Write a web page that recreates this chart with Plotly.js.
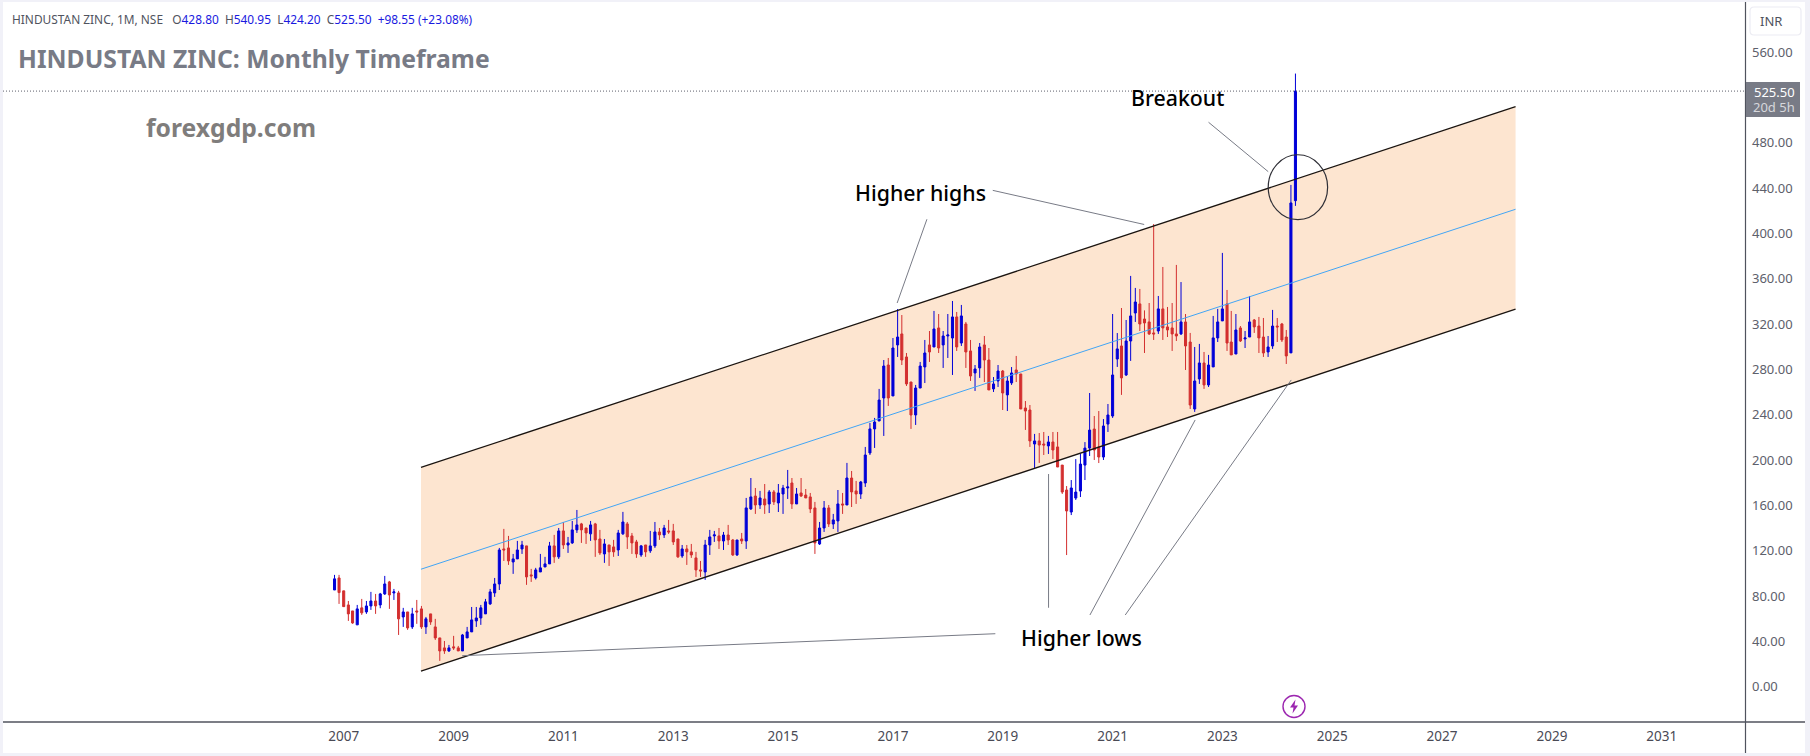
<!DOCTYPE html>
<html>
<head>
<meta charset="utf-8">
<script src="https://cdn.plot.ly/plotly-3.0.1.min.js"></script>
<style>
html,body{margin:0;padding:0;background:#f1f1f8;width:1810px;height:756px;overflow:hidden}
#chart{position:absolute;left:3px;top:2px;width:1802px;height:751px}
</style>
</head>
<body>
<div id="chart"></div>
<script>
const months = [
"2006-11","2006-12",
"2007-01","2007-02","2007-03","2007-04","2007-05","2007-06","2007-07","2007-08","2007-09","2007-10","2007-11","2007-12",
"2008-01","2008-02","2008-03","2008-04","2008-05","2008-06","2008-07","2008-08","2008-09","2008-10","2008-11","2008-12",
"2009-01","2009-02","2009-03","2009-04","2009-05","2009-06","2009-07","2009-08","2009-09","2009-10","2009-11","2009-12",
"2010-01","2010-02","2010-03","2010-04","2010-05","2010-06","2010-07","2010-08","2010-09","2010-10","2010-11","2010-12",
"2011-01","2011-02","2011-03","2011-04","2011-05","2011-06","2011-07","2011-08","2011-09","2011-10","2011-11","2011-12",
"2012-01","2012-02","2012-03","2012-04","2012-05","2012-06","2012-07","2012-08","2012-09","2012-10","2012-11","2012-12",
"2013-01","2013-02","2013-03","2013-04","2013-05","2013-06","2013-07","2013-08","2013-09","2013-10","2013-11","2013-12",
"2014-01","2014-02","2014-03","2014-04","2014-05","2014-06","2014-07","2014-08","2014-09","2014-10","2014-11","2014-12",
"2015-01","2015-02","2015-03","2015-04","2015-05","2015-06","2015-07","2015-08","2015-09","2015-10","2015-11","2015-12",
"2016-01","2016-02","2016-03","2016-04","2016-05","2016-06","2016-07","2016-08","2016-09","2016-10","2016-11","2016-12",
"2017-01","2017-02","2017-03","2017-04","2017-05","2017-06","2017-07","2017-08","2017-09","2017-10","2017-11","2017-12",
"2018-01","2018-02","2018-03","2018-04","2018-05","2018-06","2018-07","2018-08","2018-09","2018-10","2018-11","2018-12",
"2019-01","2019-02","2019-03","2019-04","2019-05","2019-06","2019-07","2019-08","2019-09","2019-10","2019-11","2019-12",
"2020-01","2020-02","2020-03","2020-04","2020-05","2020-06","2020-07","2020-08","2020-09","2020-10","2020-11","2020-12",
"2021-01","2021-02","2021-03","2021-04","2021-05","2021-06","2021-07","2021-08","2021-09","2021-10","2021-11","2021-12",
"2022-01","2022-02","2022-03","2022-04","2022-05","2022-06","2022-07","2022-08","2022-09","2022-10","2022-11","2022-12",
"2023-01","2023-02","2023-03","2023-04","2023-05","2023-06","2023-07","2023-08","2023-09","2023-10","2023-11","2023-12",
"2024-01","2024-02","2024-03","2024-04","2024-05"];

const opens = [
85.3,95.9,84.5,72.1,66.8,54.5,69.5,65.9,71.2,75.6,72.1,81.8,92.4,82.7,82.7,61.5,65.9,52.7,66.8,68.6,
52.7,64.2,52.7,43.0,34.2,31.5,35.1,34.2,31.5,43.0,48.3,58.0,60.6,64.2,73.0,82.7,90.6,121.5,122.4,110.0,
112.7,121.5,124.2,98.6,95.9,101.2,105.6,108.3,124.2,114.5,137.4,125.0,126.8,138.3,143.6,140.0,134.8,143.6,130.3,117.1,
125.0,123.3,120.6,134.8,143.6,133.0,127.7,116.2,125.0,119.8,124.2,136.5,133.9,137.4,137.4,130.3,115.3,121.5,118.9,113.6,
103.0,101.2,125.0,133.0,133.0,128.5,133.8,129.4,116.2,130.3,128.5,156.8,168.2,160.3,165.6,161.2,171.8,162.1,170.0,175.3,
179.7,161.2,170.9,169.1,167.4,157.7,125.9,140.0,157.7,143.5,146.2,161.2,160.3,184.1,172.7,170.0,179.7,206.2,227.4,234.4,
254.7,283.8,256.5,301.5,311.2,290.9,268.8,239.7,263.5,282.1,301.5,299.7,316.5,301.5,309.4,307.6,326.2,303.2,320.0,296.2,
276.8,281.2,301.5,288.2,262.7,269.7,278.5,257.4,268.0,279.4,275.9,245.9,244.1,214.1,216.8,214.1,212.4,215.9,211.5,195.5,
173.5,154.1,166.4,172.6,195.5,210.5,227.3,211.4,202.6,231.7,238.8,289.1,300.6,275.0,305.0,329.7,337.7,324.4,321.8,312.1,
313.8,333.3,317.4,316.5,311.2,311.2,321.8,304.1,245.0,271.5,285.6,266.2,282.1,307.7,322.7,337.7,304.1,293.5,316.5,306.8,
308.5,323.5,318.2,308.5,295.3,300.6,318.2,320.0,308.5,294.5,428.8];

const highs = [
98.6,98.6,84.5,75.6,66.8,72.1,77.4,75.6,83.6,81.8,82.7,97.7,93.3,86.2,84.5,69.5,65.9,69.5,76.5,71.2,
61.5,64.2,59.8,43.0,40.3,36.8,44.8,35.9,46.5,52.7,70.3,70.3,72.1,77.4,86.2,95.9,122.4,139.2,133.0,117.1,
128.6,128.6,124.2,103.9,104.8,117.1,114.5,127.7,133.9,140.0,145.3,132.1,146.2,155.9,144.5,140.0,146.2,144.5,138.3,130.3,
125.0,129.5,138.3,154.2,145.3,135.6,129.5,125.0,125.0,137.4,145.3,140.0,142.7,147.1,143.6,130.3,125.0,125.0,125.9,118.9,
110.9,129.5,138.3,137.4,140.0,136.5,142.7,130.3,129.4,135.6,166.5,184.1,175.3,172.7,178.8,173.5,173.5,178.8,178.0,191.2,
184.1,175.3,184.1,174.4,170.9,163.0,145.3,163.8,160.3,152.4,173.5,170.9,197.4,190.3,181.5,181.5,211.5,232.7,237.1,262.7,
288.2,290.0,307.6,333.2,327.9,294.4,268.8,266.2,286.5,305.9,313.8,331.5,328.8,313.8,328.8,340.3,330.6,336.8,321.8,305.9,
283.8,303.2,309.4,298.8,273.2,283.8,279.4,274.1,282.0,291.8,275.9,252.0,248.5,223.0,223.8,224.7,221.2,224.7,224.7,195.5,
177.0,182.3,200.8,205.3,215.8,259.1,238.8,243.2,236.1,249.4,328.8,312.0,334.1,323.5,362.4,351.8,350.9,332.0,338.5,408.2,
344.7,370.3,335.0,338.5,372.1,357.0,328.8,312.1,299.7,302.4,295.3,292.7,327.1,333.3,382.7,350.0,331.5,328.8,318.2,313.8,
344.7,324.4,326.2,325.3,309.4,332.4,325.3,320.9,314.7,442.7,540.95];

const lows = [
85.3,73.0,70.6,58.0,55.4,54.5,63.3,64.2,67.7,64.2,69.2,80.9,68.6,76.5,45.6,52.7,50.1,50.9,55.4,50.9,
46.5,54.5,41.2,22.7,28.9,30.6,32.4,31.5,31.5,43.0,48.3,52.7,54.5,64.2,72.1,79.2,85.3,110.9,107.4,99.5,
112.7,117.1,89.8,92.4,94.5,101.2,105.6,108.3,109.2,112.7,121.5,118.0,125.9,135.6,126.8,125.9,128.6,114.5,116.2,109.2,
106.5,114.5,115.3,133.9,121.5,117.1,113.6,114.5,114.5,118.0,122.4,129.5,131.2,134.8,125.0,113.6,113.6,107.4,113.6,96.8,
96.8,94.2,116.2,127.7,121.5,120.6,125.0,115.3,115.3,125.9,121.5,155.9,152.4,156.8,152.4,153.2,160.3,154.1,152.4,165.6,
156.8,161.2,167.4,166.5,153.2,117.1,125.0,136.5,140.9,139.1,136.5,152.4,160.3,158.5,161.2,165.6,176.2,204.4,210.6,234.4,
221.2,247.7,256.5,290.9,283.8,265.3,227.4,230.9,263.5,267.9,286.5,299.7,294.4,281.2,290.0,275.0,296.2,300.6,281.2,269.7,
260.9,272.4,268.8,261.8,260.0,264.4,244.1,243.2,266.2,268.8,245.0,226.5,211.5,193.0,197.4,204.4,205.3,200.9,193.8,170.0,
116.1,151.4,164.7,167.3,182.3,203.5,200.0,197.3,200.0,224.7,237.1,282.1,257.4,274.1,287.4,321.8,313.8,294.4,310.3,305.9,
311.2,305.9,308.5,296.2,305.0,310.3,279.4,245.0,242.4,267.1,262.7,264.4,282.1,304.1,322.7,296.2,292.7,293.5,304.1,298.8,
308.5,312.1,294.4,290.9,290.9,298.0,304.1,304.1,284.7,294.5,424.2];

const closes = [
95.1,83.0,70.6,64.2,56.2,68.6,65.1,71.2,75.6,71.2,81.8,90.6,80.9,83.6,59.8,65.9,51.8,64.2,65.9,52.7,
59.8,57.1,43.0,31.5,31.5,34.2,34.2,31.5,45.6,48.3,58.9,60.6,69.5,74.8,83.6,90.6,120.6,120.6,110.9,112.7,
120.6,125.0,96.8,97.7,103.0,104.8,108.3,124.2,114.5,137.4,125.0,126.8,138.3,142.7,138.3,135.6,142.7,129.5,118.0,125.9,
118.9,118.9,135.6,145.3,132.1,126.8,117.1,124.2,118.9,124.2,136.5,133.9,140.0,136.5,127.7,114.5,121.5,118.9,116.2,103.0,
102.1,125.0,132.1,133.9,128.6,133.8,129.4,116.2,129.4,128.5,157.7,167.4,160.3,166.5,160.3,171.8,163.0,170.9,175.3,176.2,
161.2,170.0,168.2,166.5,156.8,126.8,140.0,157.7,143.5,147.1,161.2,160.3,184.1,171.8,170.0,180.6,204.4,227.4,233.5,252.9,
282.9,254.7,298.8,308.5,288.2,267.1,239.7,263.5,282.9,294.4,295.3,315.6,298.8,309.4,310.3,326.2,299.7,327.1,295.3,274.1,
280.3,299.7,288.2,261.8,267.1,278.5,259.1,269.7,276.8,275.9,245.0,243.2,216.8,216.8,213.2,213.2,215.9,208.8,193.8,171.7,
155.0,175.3,171.7,196.4,210.5,226.4,208.8,202.6,230.0,239.7,275.0,298.0,272.4,305.0,327.1,339.4,320.0,320.9,311.2,311.2,
333.3,316.5,314.7,311.2,309.4,321.8,300.6,248.5,269.7,285.6,266.2,283.8,307.7,321.8,333.3,303.2,292.7,314.7,305.0,307.7,
321.8,317.4,307.7,294.4,299.7,318.2,317.4,305.9,291.8,426.8,525.5];

const channelDates = ["2008-05-29","2028-05-04"];
const channelUpper = [193.4,511.7];
const channelMid   = [103.6,421.2];
const channelLower = [13.6,333.0];

const yearTicks = [2007,2009,2011,2013,2015,2017,2019,2021,2023,2025,2027,2029,2031];
const priceTicks = [0,40,80,120,160,200,240,280,320,360,400,440,480,560];

// callouts: [date, price, date, price]
const callouts = [
 ["2009-02-27",27.3,"2018-11-13",46.7],
 ["2019-11-02",187.6,"2019-11-02",69.6],
 ["2022-07-04",235.3,"2020-08-03",63.2],
 ["2024-04-03",270.6,"2021-03-26",63.2],
 ["2017-08-15",412.4,"2017-01-29",338.5],
 ["2018-10-27",437.9,"2021-07-30",407.8],
 ["2022-10-01",498.0,"2023-11-02",454.4]
];
const lastPrice = 525.5;

const BLUE="#0000d8", RED="#d32f2f", GREY="#787b86";
// page pixels -> paper fractions
const PX = x => (x-3)/1742;
const PY = y => 1-(y-2)/720;
const ALL_FONT='"Noto Sans", sans-serif';

const candles = {
  type:"candlestick", x:months, open:opens, high:highs, low:lows, close:closes,
  width:14*86400000, whiskerwidth:0, hoverinfo:"skip", showlegend:false,
  increasing:{line:{color:BLUE,width:1},fillcolor:BLUE},
  decreasing:{line:{color:RED,width:1},fillcolor:RED}
};
const lineTrace=(y,color,w)=>({type:"scatter",mode:"lines",x:channelDates,y:y,line:{color:color,width:w},hoverinfo:"skip",showlegend:false});

const shapes=[
 {type:"path",xref:"x",yref:"y",layer:"below",line:{width:0},fillcolor:"#fde5d0",
  path:`M ${channelDates[0]},${channelLower[0]} L ${channelDates[0]},${channelUpper[0]} L ${channelDates[1]},${channelUpper[1]} L ${channelDates[1]},${channelLower[1]} Z`},
 {type:"line",xref:"paper",yref:"y",x0:0,x1:1,y0:lastPrice,y1:lastPrice,line:{color:"#5d606b",width:1,dash:"1px,2px"}},
 {type:"circle",xref:"x",yref:"y",x0:"2023-11-02",x1:"2024-12-01",y0:412,y1:469.3,line:{color:"#2f2f36",width:1.2},fillcolor:"rgba(0,0,0,0)"},
 // axis furniture
 {type:"line",xref:"paper",yref:"paper",x0:PX(3),x1:PX(1805),y0:PY(722),y1:PY(722),line:{color:"#50535e",width:1.4}},
 {type:"line",xref:"paper",yref:"paper",x0:PX(1745.5),x1:PX(1745.5),y0:PY(2),y1:PY(753),line:{color:"#50535e",width:1.2}},
 // price tag
 {type:"rect",xref:"paper",yref:"paper",x0:PX(1746),x1:PX(1800),y0:PY(82),y1:PY(117),line:{width:0},fillcolor:GREY},
 // currency box
 {type:"path",xref:"paper",yref:"paper",line:{color:"#ececf3",width:1.2},fillcolor:"#ffffff",
  path:`M ${PX(1754)},${PY(7)} L ${PX(1797)},${PY(7)} Q ${PX(1801)},${PY(7)} ${PX(1801)},${PY(11)} L ${PX(1801)},${PY(31)} Q ${PX(1801)},${PY(35)} ${PX(1797)},${PY(35)} L ${PX(1754)},${PY(35)} Q ${PX(1750)},${PY(35)} ${PX(1750)},${PY(31)} L ${PX(1750)},${PY(11)} Q ${PX(1750)},${PY(7)} ${PX(1754)},${PY(7)} Z`},
 // lightning marker
 {type:"circle",xref:"paper",yref:"paper",x0:PX(1283),x1:PX(1305),y0:PY(695.5),y1:PY(717.5),line:{color:"#9c27b0",width:1.4},fillcolor:"#ffffff"},
 {type:"path",xref:"paper",yref:"paper",line:{width:0},fillcolor:"#9c27b0",
  path:`M ${PX(1295.5)},${PY(699.5)} L ${PX(1290)},${PY(707.5)} L ${PX(1293.5)},${PY(707.5)} L ${PX(1292.5)},${PY(713.5)} L ${PX(1298)},${PY(705.5)} L ${PX(1294.5)},${PY(705.5)} Z`}
];
callouts.forEach(c=>shapes.push({type:"line",xref:"x",yref:"y",x0:c[0],y0:c[1],x1:c[2],y1:c[3],line:{color:GREY,width:1}}));

const v=s=>`<span style="color:#1a1ae0">${s}</span>`;
const header="HINDUSTAN ZINC, 1M, NSE   O"+v("428.80")+"  H"+v("540.95")+"  L"+v("424.20")+"  C"+v("525.50")+"  "+v("+98.55 (+23.08%)");
const note=(x,y,text,size,color,extra)=>Object.assign({xref:"paper",yref:"paper",x:PX(x),y:PY(y),text:text,showarrow:false,xanchor:"center",yanchor:"middle",
   font:{family:ALL_FONT,size:size,color:color},borderpad:0},extra||{});
const medium=(x,y,text,size)=>{const a=note(x,y,text,size,"#000000");a.font.weight=500;return a;};

const annotations=[
 note(11,19,header,11.9,"#50535e",{xanchor:"left"}),
 note(17,59,"<b>HINDUSTAN ZINC: Monthly Timeframe</b>",24.7,GREY,{xanchor:"left"}),
 note(145,127,"<b>forexgdp.com</b>",24.7,"#7f7d7c",{xanchor:"left"}),
 medium(1177,98,"Breakout",21.3),
 medium(920,193,"Higher highs",21.3),
 medium(1081,637,"Higher lows",21.3),
 note(1771,21,"INR",13,"#50535e"),
 note(1774,92,"525.50",13,"#ffffff"),
 note(1774,107,"20d 5h",13,"#d6d7dc")
];

const layout={
 width:1802,height:751,
 margin:{l:0,r:60,t:0,b:31,pad:0},
 paper_bgcolor:"#ffffff",plot_bgcolor:"#ffffff",
 showlegend:false,hovermode:false,dragmode:false,
 xaxis:{type:"date",range:["2000-10-18","2032-07-08"],rangeslider:{visible:false},
   tickmode:"array",tickvals:yearTicks.map(y=>y+"-01-01"),ticktext:yearTicks.map(String),
   showgrid:false,zeroline:false,showline:false,ticks:"",ticklen:0,ticklabelstandoff:4,
   tickfont:{family:ALL_FONT,size:13.5,color:"#4a4a55"},automargin:false},
 yaxis:{side:"right",range:[-31.2,604.1],tickmode:"array",tickvals:priceTicks,ticktext:priceTicks.map(p=>p.toFixed(2)),
   showgrid:false,zeroline:false,showline:false,ticks:"",ticklen:0,ticklabelstandoff:6,
   tickfont:{family:ALL_FONT,size:13,color:"#5d606b"},automargin:false},
 shapes:shapes,annotations:annotations
};

Plotly.newPlot("chart",[candles,lineTrace(channelUpper,"#1a1410",1.3),lineTrace(channelMid,"#42a5f5",1),lineTrace(channelLower,"#1a1410",1.3)],layout,{displayModeBar:false,staticPlot:true});
</script>
</body>
</html>
